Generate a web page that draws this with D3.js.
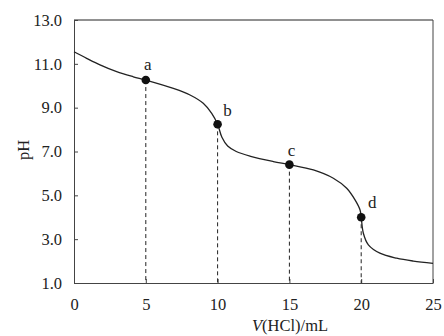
<!DOCTYPE html>
<html>
<head>
<meta charset="utf-8">
<script src="https://cdn.jsdelivr.net/npm/d3@7/dist/d3.min.js"></script>
<style>
  html, body { margin: 0; padding: 0; background: #fff; }
  svg { display: block; }
  text { font-family: "Liberation Serif", "DejaVu Serif", serif; fill: #222; }
</style>
</head>
<body>
<svg id="chart" width="444" height="336"></svg>
<script>
// Titration curve data (V(HCl) in mL, pH)
const volume = [0, 0.88, 1.81, 2.97, 4.13, 5, 6.92, 8.08, 9.0, 9.59, 10, 10.3, 10.7, 11.3, 12.3, 13.88, 15, 16.67, 18.06, 18.99, 19.57, 19.92, 20, 20.15, 20.5, 21.3, 22.47, 23.63, 25];
const pH     = [11.55, 11.25, 10.95, 10.64, 10.41, 10.26, 9.88, 9.58, 9.2, 8.74, 8.24, 7.65, 7.25, 7.0, 6.78, 6.54, 6.4, 6.16, 5.78, 5.32, 4.79, 4.33, 4.0, 3.27, 2.74, 2.36, 2.13, 2.0, 1.9];

// Marked points
const pointLabels = ["a", "b", "c", "d"];
const pointVolume = [5, 10, 15, 20];
const pointPH     = [10.26, 8.24, 6.4, 4.0];

// Ticks
const xTicks = [0, 5, 10, 15, 20, 25];
const yTicks = [1.0, 3.0, 5.0, 7.0, 9.0, 11.0, 13.0];

const svg = d3.select("#chart");
const mLeft = 74, mRight = 433, mTop = 20, mBottom = 283;

const x = d3.scaleLinear().domain([0, 25]).range([mLeft, mRight]);
const y = d3.scaleLinear().domain([1, 13]).range([mBottom, mTop]);

const axisColor = "#444";

// frame: top and right border
svg.append("line").attr("x1", mLeft).attr("x2", mRight).attr("y1", mTop).attr("y2", mTop)
  .attr("stroke", "#222").attr("stroke-width", 1);
svg.append("line").attr("x1", mRight).attr("x2", mRight).attr("y1", mTop).attr("y2", mBottom)
  .attr("stroke", axisColor).attr("stroke-width", 1);

// x axis
const xAxis = svg.append("g").attr("transform", `translate(0,${mBottom})`)
  .call(d3.axisBottom(x).tickValues(xTicks).tickSizeInner(-4).tickSizeOuter(0).tickPadding(17).tickFormat(d3.format("d")));
xAxis.select(".domain").attr("stroke", axisColor);
xAxis.selectAll(".tick line").attr("stroke", axisColor);
xAxis.selectAll(".tick text").attr("font-size", 16.5).attr("fill", "#222").attr("dy", "0.6em");

// y axis
const yAxis = svg.append("g").attr("transform", `translate(${mLeft},0)`)
  .call(d3.axisLeft(y).tickValues(yTicks).tickSizeInner(-4).tickSizeOuter(0).tickPadding(12).tickFormat(d3.format(".1f")));
yAxis.select(".domain").attr("stroke", axisColor);
yAxis.selectAll(".tick line").attr("stroke", axisColor);
yAxis.selectAll(".tick text").attr("font-size", 16.5).attr("fill", "#222");

// axis titles
const xt = svg.append("text").attr("x", 252).attr("y", 331).attr("font-size", 16.5);
xt.append("tspan").attr("font-style", "italic").text("V");
xt.append("tspan").text("(HCl)/mL");

svg.append("text").attr("transform", "translate(29,150) rotate(-90)")
  .attr("text-anchor", "middle").attr("font-size", 16.5).text("pH");

// dashed drop lines
const pts = pointVolume.map((v, i) => ({ v, p: pointPH[i], label: pointLabels[i] }));
svg.selectAll("line.drop").data(pts).enter().append("line")
  .attr("class", "drop")
  .attr("x1", d => x(d.v)).attr("x2", d => x(d.v))
  .attr("y1", d => y(d.p)).attr("y2", mBottom)
  .attr("stroke", "#222").attr("stroke-width", 1).attr("stroke-dasharray", "4,3");

// curve
const data = volume.map((v, i) => [v, pH[i]]);
svg.append("path").datum(data)
  .attr("fill", "none").attr("stroke", "#222").attr("stroke-width", 1.3)
  .attr("d", d3.line().x(d => x(d[0])).y(d => y(d[1])).curve(d3.curveCatmullRom.alpha(0.5)));

// points
svg.selectAll("circle.pt").data(pts).enter().append("circle")
  .attr("cx", d => x(d.v)).attr("cy", d => y(d.p)).attr("r", 4.3).attr("fill", "#111");

// point labels
const labelOffsets = { a: [2, -10], b: [10, -8], c: [2, -9], d: [11, -9] };
svg.selectAll("text.pl").data(pts).enter().append("text")
  .attr("x", d => x(d.v) + labelOffsets[d.label][0])
  .attr("y", d => y(d.p) + labelOffsets[d.label][1])
  .attr("text-anchor", "middle").attr("font-size", 17).text(d => d.label);
</script>
</body>
</html>
